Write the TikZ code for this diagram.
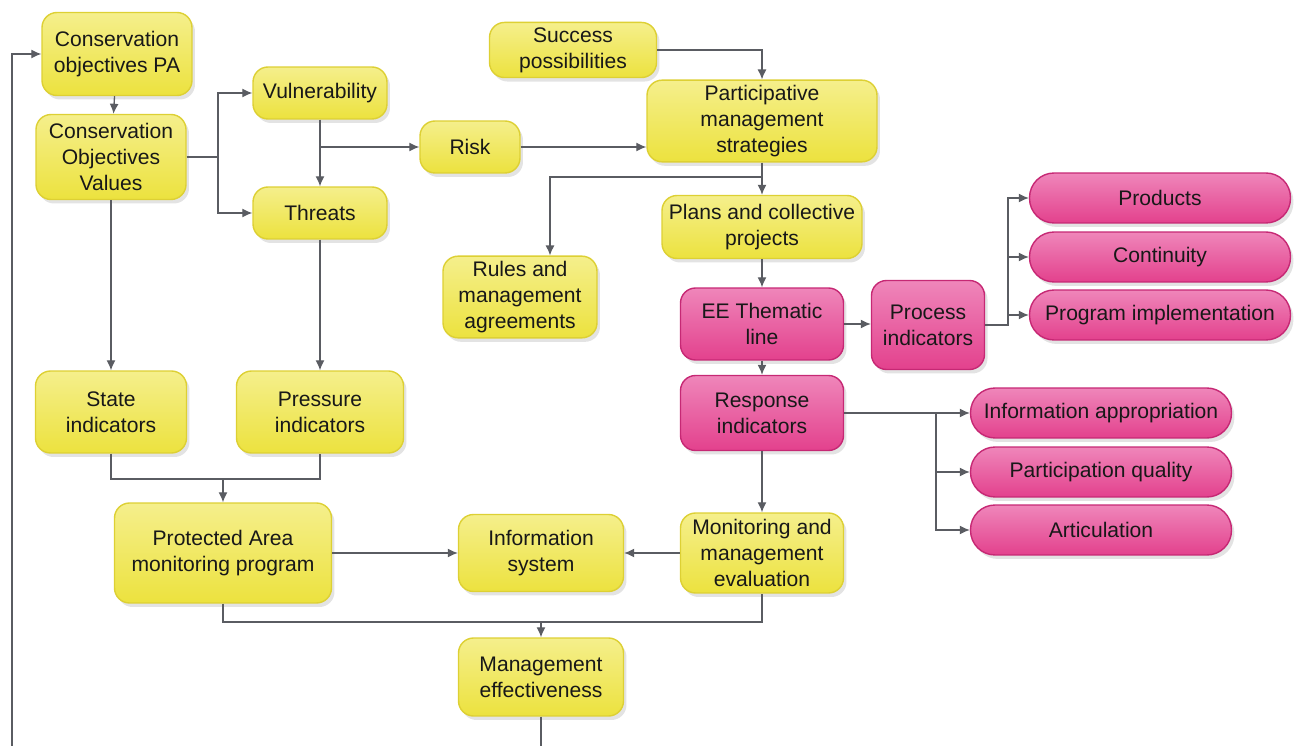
\documentclass[tikz,border=0pt]{standalone}
\usepackage{fontspec}
\setmainfont{Liberation Sans}
\usetikzlibrary{arrows.meta, shadows}
\definecolor{ylwfill}{HTML}{ECE23E}
\definecolor{ylwtop}{HTML}{F5EF8C}
\definecolor{ylwline}{HTML}{DDD034}
\definecolor{pnkfill}{HTML}{E3418D}
\definecolor{pnktop}{HTML}{EF86BA}
\definecolor{pnkline}{HTML}{C62874}
\definecolor{wiregray}{HTML}{5A5C62}
\definecolor{txtdark}{HTML}{181818}

\begin{document}
\begin{tikzpicture}[x=0.02cm, y=-0.02cm,
  font=\fontsize{12}{14.8}\selectfont,
  box/.style={line width=0.8pt, rounded corners=3mm, align=center, inner sep=1mm,
    text=txtdark, drop shadow={shadow xshift=0.6mm, shadow yshift=-0.8mm, opacity=0.22}},
  ybox/.style={box, draw=ylwline, top color=ylwtop, bottom color=ylwfill},
  pbox/.style={box, draw=pnkline, top color=pnktop, bottom color=pnkfill},
  pill/.style={pbox, rounded corners=4.9mm, minimum width=52.2mm, minimum height=10mm},
  arr/.style={draw=wiregray, line width=0.75pt, -{Latex[length=2mm, width=1.8mm]}},
  wire/.style={draw=wiregray, line width=0.75pt}]

  \path[use as bounding box, clip] (0,0) rectangle (1301,746);

  % left column
  \node[ybox, minimum width=30mm, minimum height=16.6mm] (cpa) at (117,54) {Conservation\\objectives PA};
  \node[ybox, minimum width=30mm, minimum height=17mm] (cov) at (111,157) {Conservation\\Objectives\\Values};
  \node[ybox, minimum width=26.8mm, minimum height=10.4mm] (vul) at (320,93) {Vulnerability};
  \node[ybox, minimum width=26.8mm, minimum height=10.4mm] (thr) at (320,213) {Threats};
  \node[ybox, minimum width=20mm, minimum height=10.4mm] (risk) at (470,147) {Risk};
  \node[ybox, minimum width=30.2mm, minimum height=16.4mm] (sin) at (111,412) {State\\indicators};
  \node[ybox, minimum width=33.4mm, minimum height=16.4mm] (prin) at (320,412) {Pressure\\indicators};
  \node[ybox, minimum width=43.4mm, minimum height=20mm] (pamp) at (223,553) {Protected Area\\monitoring program};

  % middle column
  \node[ybox, minimum width=33.4mm, minimum height=10.6mm] (suc) at (573,50) {Success\\possibilities};
  \node[ybox, minimum width=46mm, minimum height=14.8mm] (pms) at (762,121) {Participative\\management\\strategies};
  \node[ybox, minimum width=40mm, minimum height=12.6mm] (pcp) at (762,227) {Plans and collective\\projects};
  \node[ybox, minimum width=30.8mm, minimum height=13.6mm] (rma) at (520,297) {Rules and\\management\\agreements};
  \node[pbox, minimum width=32.6mm, minimum height=14.4mm] (ee) at (762,324) {EE Thematic\\line};
  \node[pbox, minimum width=22.6mm, minimum height=17.8mm] (pin) at (928,325) {Process\\indicators};
  \node[pbox, minimum width=32.6mm, minimum height=15mm] (rin) at (762,413) {Response\\indicators};
  \node[ybox, minimum width=33mm, minimum height=15.4mm] (isys) at (541,553) {Information\\system};
  \node[ybox, minimum width=32.6mm, minimum height=16mm] (mme) at (762,553) {Monitoring and\\management\\evaluation};
  \node[ybox, minimum width=33mm, minimum height=15.6mm] (mef) at (541,677) {Management\\effectiveness};

  % right pills
  \node[pill] (prod) at (1160,198) {Products};
  \node[pill] (cont) at (1160,257) {Continuity};
  \node[pill] (prog) at (1160,315) {Program implementation};
  \node[pill] (infa) at (1101,413) {Information appropriation};
  \node[pill] (part) at (1101,472) {Participation quality};
  \node[pill] (art) at (1101,530) {Articulation};

  % junctions
  \coordinate (j1) at (218,157);
  \coordinate (j2) at (762,177);
  \coordinate (j3) at (1008,198);
  \coordinate (j4) at (936,413);
  \coordinate (j5) at (223,479);
  \coordinate (j6) at (541,622);
  \coordinate (lp) at (12,770);

  \draw[arr] (cpa) -- (cov);
  \draw[wire] (cov.east) -- (j1);
  \draw[arr] (j1) |- (vul);
  \draw[arr] (j1) |- (thr);
  \draw[arr] (vul) -- (thr);
  \draw[arr] (vul.south |- risk) -- (risk);
  \draw[arr] (risk) -- (risk -| pms.west);
  \draw[arr] (suc) -| (pms);
  \draw[arr] (pms) -- (pcp);
  \draw[arr] (j2) -| ([xshift=6mm] rma.north);
  \draw[arr] (pcp) -- (ee);
  \draw[arr] (ee.east) -- (ee.east -| pin.west);
  \draw[arr] (pin.east) -| (j3) -- (prod);
  \draw[arr] (j3 |- cont) -- (cont);
  \draw[arr] (j3 |- prog) -- (prog);
  \draw[arr] (ee) -- (rin);
  \draw[arr] (rin.east) -- (infa.west);
  \draw[arr] (j4) |- (art);
  \draw[arr] (j4 |- part) -- (part);
  \draw[arr] (rin) -- (mme);
  \draw[arr] (mme) -- (isys);
  \draw[arr] (pamp) -- (isys);
  \draw[arr] (cov) -- (sin);
  \draw[arr] (thr) -- (prin);
  \draw[wire] (sin) |- (j5) -| (prin);
  \draw[arr] (j5) -- (pamp);
  \draw[wire] (pamp) |- (j6) -| (mme);
  \draw[arr] (j6) -- (mef);
  \draw[arr] (mef) -- (mef |- lp) -- (lp) |- (cpa);
\end{tikzpicture}
\end{document}
